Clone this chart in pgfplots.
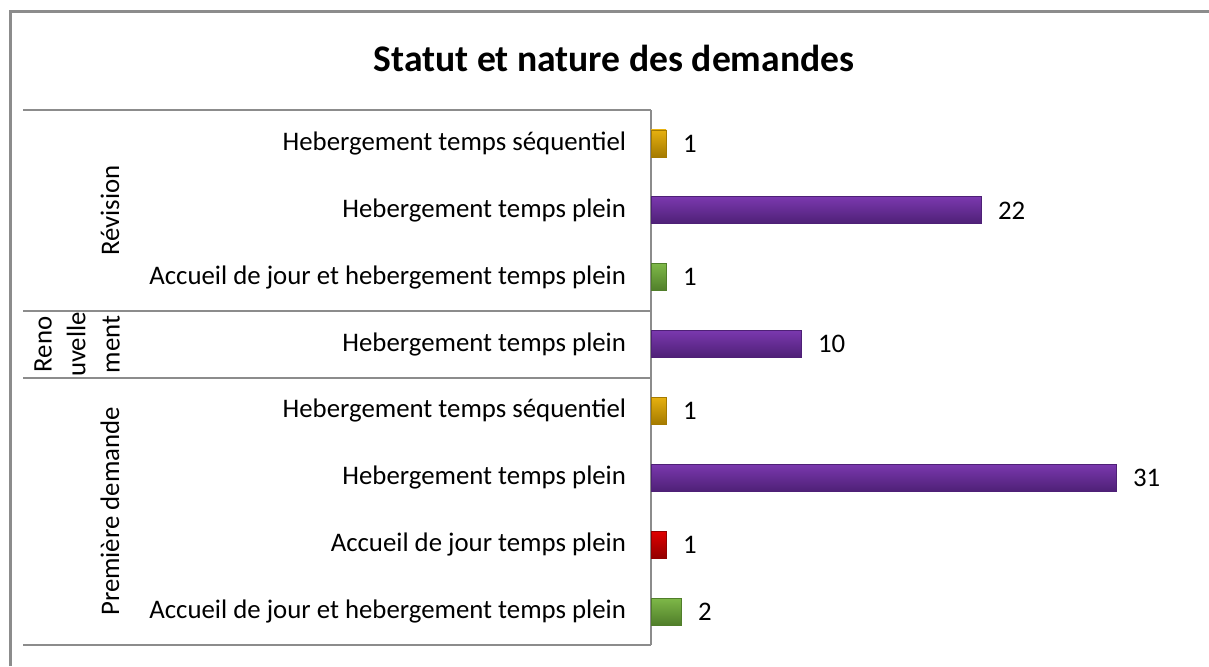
\documentclass[border=0pt]{standalone}
\usepackage{pgfplots}
\pgfplotsset{compat=1.18}
\usepackage{fontspec}
\setmainfont{Carlito}
\definecolor{goldM}{HTML}{E6B010}
\definecolor{goldL}{HTML}{FFD84A}
\definecolor{goldD}{HTML}{A47A00}
\definecolor{purM}{HTML}{7A38AE}
\definecolor{purL}{HTML}{AC6ADC}
\definecolor{purD}{HTML}{4E2076}
\definecolor{grnM}{HTML}{7EB848}
\definecolor{grnL}{HTML}{AEDC78}
\definecolor{grnD}{HTML}{507E2A}
\definecolor{redM}{HTML}{E00000}
\definecolor{redL}{HTML}{FF4A4A}
\definecolor{redD}{HTML}{920000}
\definecolor{lineG}{HTML}{8C8C8C}
\pgfplotsset{
  gold/.style={draw=goldD, top color=goldM, middle color=goldL, bottom color=goldD},
  pur/.style={draw=purD, top color=purM, middle color=purL, bottom color=purD},
  grn/.style={draw=grnD, top color=grnM, middle color=grnL, bottom color=grnD},
  red/.style={draw=redD, top color=redM, middle color=redL, bottom color=redD},
}
\begin{document}
\begin{tikzpicture}[x=1pt,y=1pt]
\path[use as bounding box] (0,0) rectangle (604.5,333);
% chart frame (cropped at right and bottom)
\draw[lineG, line width=1.5pt] (5,0) -- (5,327) -- (604.5,327);
\node[font=\fontsize{18.8}{22}\selectfont\bfseries] at (307,304) {Statut et nature des demandes};
% group separators
\foreach \yy in {278,177.5,144,10.5} \draw[lineG, line width=1pt] (11.5,\yy) -- (325.5,\yy);
\node[rotate=90, font=\fontsize{13.4}{16}\selectfont] at (55,227.75) {Révision};
\node[rotate=90, font=\fontsize{13.4}{17}\selectfont, align=center, inner sep=0pt] at (38.5,160.75) {Reno\\uvelle\\ment};
\node[rotate=90, font=\fontsize{13.4}{16}\selectfont] at (55,77.25) {Première demande};
\begin{axis}[
    at={(325.5pt,10.5pt)}, anchor=south west,
    scale only axis,
    width=262.5pt, height=267.5pt,
    xbar, bar width=13.5pt, bar shift=0pt,
    xmin=0, xmax=35, ymin=-0.5, ymax=7.5,
    axis x line=none,
    axis y line*=left,
    axis line style={lineG, line width=1pt},
    ytick={0,...,7},
    yticklabels={Accueil de jour et hebergement temps plein, Accueil de jour temps plein,
      Hebergement temps plein, Hebergement temps séquentiel, Hebergement temps plein,
      Accueil de jour et hebergement temps plein, Hebergement temps plein, Hebergement temps séquentiel},
    major tick length=0pt,
    yticklabel style={font=\fontsize{13.4}{16}\selectfont, anchor=east, xshift=-9pt},
    /pgf/number format/assume math mode=true,
    nodes near coords,
    every node near coord/.append style={font=\fontsize{13.4}{16}\selectfont, anchor=west, xshift=5pt, text=black},
    clip=false,
]
% one plot per bar so that each bar gets its own shading
% Révision
\addplot[gold] coordinates {(1,7)};
\addplot[pur]  coordinates {(22,6)};
\addplot[grn]  coordinates {(1,5)};
% Renouvellement
\addplot[pur]  coordinates {(10,4)};
% Première demande
\addplot[gold] coordinates {(1,3)};
\addplot[pur]  coordinates {(31,2)};
\addplot[red]  coordinates {(1,1)};
\addplot[grn]  coordinates {(2,0)};
\end{axis}
\end{tikzpicture}
\end{document}
